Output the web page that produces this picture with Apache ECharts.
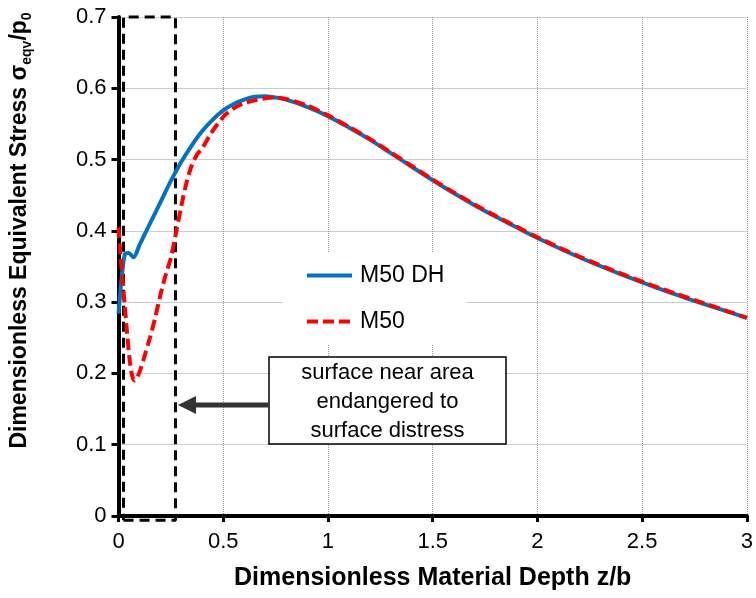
<!DOCTYPE html>
<html>
<head>
<meta charset="utf-8">
<script src="https://cdn.jsdelivr.net/npm/echarts@6/dist/echarts.min.js"></script>
<style>
  html, body { margin: 0; padding: 0; background: #fff; }
  #box { width: 756px; height: 598px; }
</style>
</head>
<body>
<div id="box"></div>
<script>
var dom = document.getElementById('box');
var myChart = echarts.init(dom);

// depth z/b and stress values
var depthDH = [0, 0.01, 0.02, 0.032, 0.048, 0.072, 0.1, 0.15, 0.2, 0.25, 0.3, 0.35, 0.4, 0.45, 0.5,
    0.55, 0.6, 0.65, 0.7, 0.75, 0.8, 0.9, 1.0, 1.1, 1.2, 1.3, 1.4, 1.5, 1.6, 1.7, 1.8, 1.9, 2.0,
    2.2, 2.4, 2.6, 2.8, 3.0];
var stressDH = [0.284, 0.318, 0.348, 0.368, 0.369, 0.363, 0.38, 0.41, 0.44, 0.47, 0.497, 0.52, 0.54, 0.556, 0.569,
    0.578, 0.584, 0.588, 0.589, 0.587, 0.584, 0.574, 0.561, 0.545, 0.528, 0.509, 0.49, 0.471, 0.453, 0.436, 0.42, 0.405, 0.39,
    0.363, 0.339, 0.317, 0.297, 0.278];

var depthM50 = [0, 0.01, 0.02, 0.03, 0.04, 0.053, 0.065, 0.077, 0.09, 0.104, 0.125, 0.15, 0.175, 0.2, 0.225,
    0.25, 0.275, 0.3, 0.325, 0.35, 0.375, 0.4, 0.44, 0.5, 0.55, 0.6, 0.65, 0.7, 0.75, 0.8, 0.9, 1.0,
    1.1, 1.2, 1.3, 1.4, 1.5, 1.6, 1.7, 1.8, 1.9, 2.0, 2.2, 2.4, 2.6, 2.8, 3.0];
var stressM50 = [0.405, 0.365, 0.33, 0.295, 0.26, 0.22, 0.197, 0.19, 0.195, 0.205, 0.225, 0.25, 0.278, 0.31, 0.338,
    0.362, 0.398, 0.435, 0.468, 0.492, 0.507, 0.516, 0.536, 0.56, 0.572, 0.579, 0.583, 0.586, 0.587, 0.585, 0.576, 0.562,
    0.546, 0.529, 0.51, 0.491, 0.472, 0.454, 0.437, 0.421, 0.406, 0.391, 0.364, 0.34, 0.318, 0.298, 0.278];

// dashed frame around the surface near area (z/b from, to; stress from, to)
var frameX = [0.024, 0.272];
var frameY = [-0.006, 0.7];

var xTicks = [0, 3, 0.5];
var yTicks = [0, 0.7, 0.1];

var seriesNames = ['M50 DH', 'M50'];

function pairs(xs, ys) {
    return xs.map(function (x, i) { return [x, ys[i]]; });
}

var fontName = 'Liberation Sans, Arial, sans-serif';

var frameData = [
    [frameX[0], frameY[0]], [frameX[1], frameY[0]], [frameX[1], frameY[1]],
    [frameX[0], frameY[1]], [frameX[0], frameY[0]]
];

var option = {
    animation: false,
    textStyle: { fontFamily: fontName, color: '#000' },
    grid: { left: 118, right: 9, top: 17, bottom: 82, containLabel: false },
    legend: {
        data: seriesNames,
        orient: 'vertical',
        left: 283,
        top: 252,
        padding: [12, 22, 12, 22],
        backgroundColor: '#fff',
        itemWidth: 45,
        itemHeight: 14,
        itemGap: 23,
        itemStyle: { opacity: 0, borderWidth: 0 },
        lineStyle: { width: 4 },
        textStyle: { fontSize: 23, color: '#000', fontFamily: fontName, padding: [0, 0, 0, 3] }
    },
    xAxis: {
        type: 'value',
        min: xTicks[0],
        max: xTicks[1],
        interval: xTicks[2],
        name: 'Dimensionless Material Depth z/b',
        nameLocation: 'middle',
        nameGap: 50,
        nameTextStyle: { fontSize: 25, fontWeight: 'bold', color: '#000', fontFamily: fontName },
        axisLine: { onZero: false, lineStyle: { color: '#000', width: 4 } },
        axisTick: { show: true, length: 6, lineStyle: { color: '#000', width: 3 } },
        axisLabel: { fontSize: 22, color: '#000', margin: 15, fontFamily: fontName },
        splitLine: { show: true, lineStyle: { color: '#999', type: 'dotted', width: 1 } }
    },
    yAxis: {
        type: 'value',
        min: yTicks[0],
        max: yTicks[1],
        interval: yTicks[2],
        name: '{t|Dimensionless Equivalent Stress σ}{s|eqv}{t|/p}{s|0}',
        nameLocation: 'middle',
        nameRotate: 90,
        nameGap: 84,
        nameTextStyle: {
            padding: [0, 0, 0, 72],
            rich: {
                t: { fontSize: 23, fontWeight: 'bold', lineHeight: 30, color: '#000', fontFamily: fontName },
                s: { fontSize: 14, fontWeight: 'bold', lineHeight: 14, verticalAlign: 'bottom', color: '#000', fontFamily: fontName }
            }
        },
        axisLine: { onZero: false, lineStyle: { color: '#000', width: 4 } },
        axisTick: { show: true, length: 7, lineStyle: { color: '#000', width: 3 } },
        axisLabel: { fontSize: 22, color: '#000', margin: 12, fontFamily: fontName },
        splitLine: { show: true, lineStyle: { color: '#999', type: 'dotted', width: 1 } }
    },
    series: [
        {
            name: 'frame',
            type: 'line',
            data: frameData,
            symbol: 'none',
            silent: true,
            clip: false,
            z: 1,
            lineStyle: { color: '#000', width: 3, type: [10, 6] }
        },
        {
            name: seriesNames[0],
            type: 'line',
            data: pairs(depthDH, stressDH),
            symbol: 'none',
            smooth: 0.3,
            z: 3,
            lineStyle: { color: '#0072C6', width: 4 },
            itemStyle: { color: '#0072C6' }
        },
        {
            name: seriesNames[1],
            type: 'line',
            data: pairs(depthM50, stressM50),
            symbol: 'none',
            smooth: 0.3,
            z: 4,
            lineStyle: { color: '#FF0000', width: 4, type: [11, 5] },
            itemStyle: { color: '#FF0000' }
        }
    ],
    graphic: [
        {
            type: 'rect',
            shape: { x: 269, y: 357, width: 237, height: 87 },
            style: { fill: '#fff', stroke: '#000', lineWidth: 1.5 },
            z: 100
        },
        {
            type: 'text',
            x: 387.5,
            y: 402,
            style: {
                text: 'surface near area\nendangered to\nsurface distress',
                fontSize: 22,
                lineHeight: 29,
                fontFamily: fontName,
                fill: '#000',
                align: 'center',
                verticalAlign: 'middle'
            },
            z: 101
        },
        {
            type: 'line',
            shape: { x1: 269, y1: 405, x2: 192, y2: 405 },
            style: { stroke: '#333', lineWidth: 5 },
            z: 100
        },
        {
            type: 'polygon',
            shape: { points: [[178, 405], [196, 396], [196, 414]] },
            style: { fill: '#333' },
            z: 100
        }
    ]
};

myChart.setOption(option);
</script>
</body>
</html>
